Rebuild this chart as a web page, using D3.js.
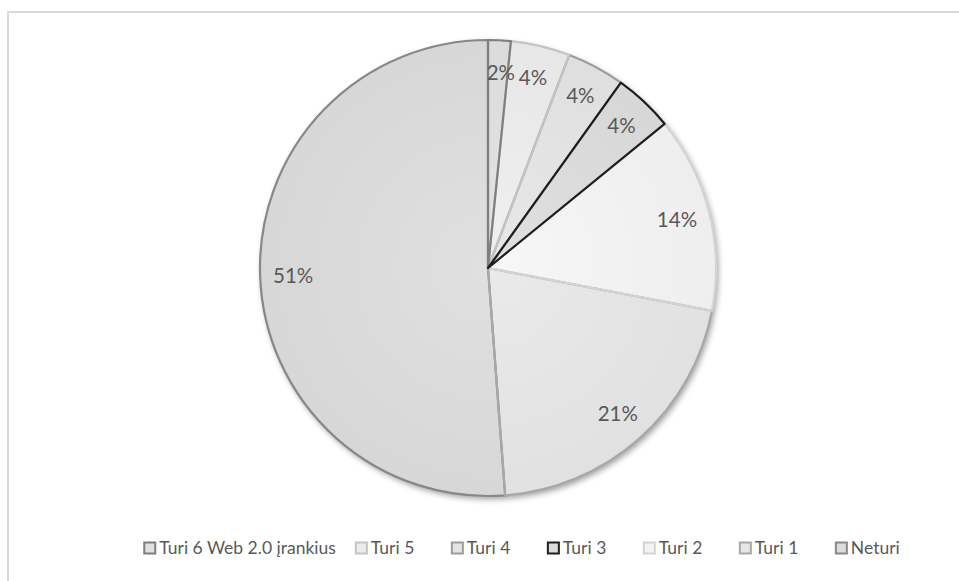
<!DOCTYPE html>
<html><head><meta charset="utf-8">
<script src="https://cdn.jsdelivr.net/npm/d3@7"></script>
<style>html,body{margin:0;padding:0;background:#fff;}svg{display:block;}</style>
</head><body>
<svg id="c" width="959" height="581"></svg>
<script>
const categories = ["Turi 6 Web 2.0 įrankius","Turi 5","Turi 4","Turi 3","Turi 2","Turi 1","Neturi"];
const values = [1.6, 4.2, 4.1, 4.2, 13.9, 20.8, 51.2];
const labels = ["2%","4%","4%","4%","14%","21%","51%"];
const fills = ["#e0e0e0","#ececec","#e4e4e4","#dcdcdc","#f3f3f3","#e6e6e6","#dcdcdc"];
const strokes = ["#7f7f7f","#c4c4c4","#9c9c9c","#1e1e1e","#d4d4d4","#a8a8a8","#888888"];

const svg = d3.select("#c");
const W = 959, H = 581;
svg.append("line").attr("x1",7).attr("x2",W).attr("y1",12).attr("y2",12).attr("stroke","#d9d9d9").attr("stroke-width",2);
svg.append("line").attr("x1",8).attr("x2",8).attr("y1",11).attr("y2",H).attr("stroke","#d9d9d9").attr("stroke-width",2);

const defs = svg.append("defs");
const sh = defs.append("filter").attr("id","sh").attr("x","-10%").attr("y","-10%").attr("width","125%").attr("height","125%");
sh.append("feGaussianBlur").attr("in","SourceAlpha").attr("stdDeviation",3).attr("result","b");
sh.append("feOffset").attr("in","b").attr("dx",1.5).attr("dy",3).attr("result","o");
sh.append("feComponentTransfer").attr("in","o").attr("result","o2").append("feFuncA").attr("type","linear").attr("slope",0.4);
const mg = sh.append("feMerge"); mg.append("feMergeNode").attr("in","o2"); mg.append("feMergeNode").attr("in","SourceGraphic");

fills.forEach((f,i)=>{
  const g = defs.append("radialGradient").attr("id","g"+i).attr("gradientUnits","userSpaceOnUse")
    .attr("cx",0).attr("cy",0).attr("r",230);
  g.append("stop").attr("offset","0%").attr("stop-color",d3.color(f).brighter(0.05));
  g.append("stop").attr("offset","100%").attr("stop-color",d3.color(f).darker(0.06));
});

const cx = 488, cy = 268, R = 228;
const pie = d3.pie().sort(null).value(d=>d)(values);
const arc = d3.arc().innerRadius(0).outerRadius(R);
const labelArc = d3.arc().innerRadius(R*0.855).outerRadius(R*0.855);

const g = svg.append("g").attr("transform",`translate(${cx},${cy})`);
g.append("circle").attr("r",R).attr("fill","#ddd").attr("filter","url(#sh)");
g.selectAll("path.s").data(pie).join("path").attr("class","s")
  .attr("d",arc).attr("fill",(d,i)=>`url(#g${i})`);
const order = [6,5,4,2,1,0,3];
g.selectAll("path.o").data(order.map(i=>({d:pie[i],i}))).join("path").attr("class","o")
  .attr("d",o=>arc(o.d)).attr("fill","none").attr("stroke",o=>strokes[o.i]).attr("stroke-width",2.2).attr("stroke-linejoin","round");

g.selectAll("text.l").data(pie).join("text").attr("class","l")
  .attr("transform",(d,i)=>{const c=labelArc.centroid(d); if(i===0){c[0]+=3;} return `translate(${c[0]},${c[1]})`;})
  .attr("text-anchor","middle").attr("dy","0.35em")
  .attr("font-family","Lato, 'Open Sans', sans-serif").attr("font-size",20.5).attr("fill","#595959")
  .text((d,i)=>labels[i]);

// legend: Excel-style equal slots
const lg = svg.append("g");
const fs = 17.5, pad = 20, box = 13, boxGap = 3, slot = 96;
const items = lg.selectAll("g").data(categories).join("g");
items.append("rect").attr("width",box-2).attr("height",box-2).attr("x",1).attr("y",-box/2+1)
  .attr("fill",(d,i)=>fills[i]).attr("stroke",(d,i)=>strokes[i]).attr("stroke-width",2);
items.append("text").attr("x",box+boxGap).attr("dy","0.35em")
  .attr("font-family","Lato, 'Open Sans', sans-serif").attr("font-size",fs).attr("fill","#595959").text(d=>d);
let widths = [];
items.each(function(){ widths.push(this.getBBox().width); });
const slots = widths.map(w=>Math.max(w+pad, slot));
const visible = d3.sum(slots.slice(0,-1)) + widths[widths.length-1];
let x = 521 - visible/2;
items.attr("transform",(d,i)=>{const t=`translate(${x},548)`; x += slots[i]; return t;});
</script>
</body></html>
